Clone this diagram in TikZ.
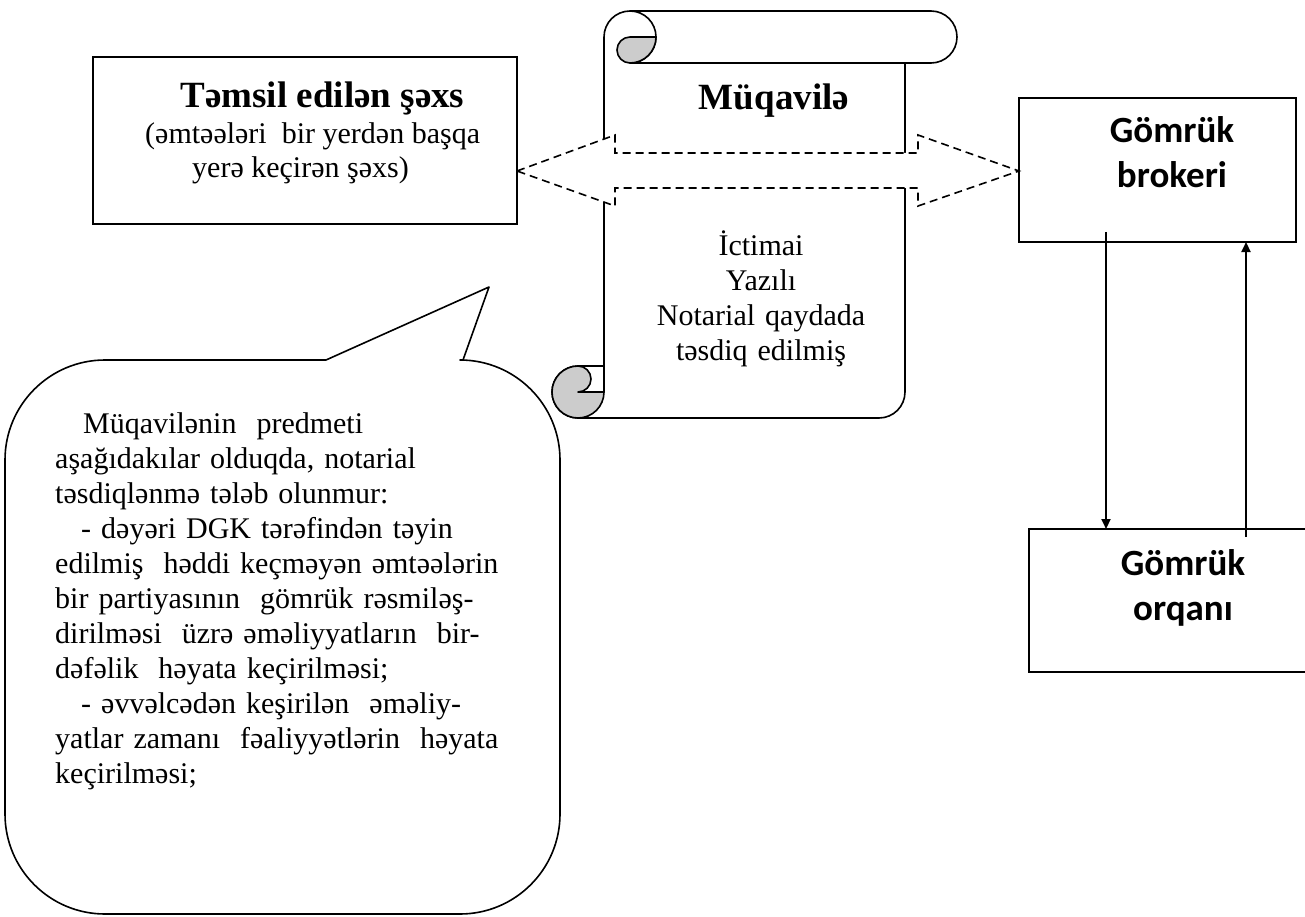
\documentclass[tikz,border=0pt]{standalone}
\usepackage{fontspec}
\setmainfont{Liberation Serif}
\newfontfamily\brokerfont{Carlito}
\usetikzlibrary{arrows.meta,calc}

\tikzset{
  boxnode/.style={draw=black, line width=2pt, fill=white, rectangle, inner sep=0pt, outer sep=0pt},
  txt/.style={inner sep=0pt, font=\fontsize{30}{35}\selectfont},
  ttl/.style={inner sep=0pt, font=\fontsize{37}{42}\selectfont\bfseries},
  sanslbl/.style={inner sep=0pt, font=\brokerfont\fontsize{37}{45}\selectfont\bfseries, text width=220pt, align=center},
  outline/.style={draw=black, line width=1.6pt, line join=round},
  curl/.style={outline, fill=black!20},
  dasharrow/.style={draw=black, fill=white, line width=1.6pt, dash pattern=on 8pt off 5pt, line join=miter},
  flow/.style={draw=black, line width=2pt, -{Triangle[length=10pt,width=9pt]}},
}

\begin{document}
\begin{tikzpicture}[x=1pt,y=-1pt]
\useasboundingbox (0,0) rectangle (1305,917);
\clip (0,0) rectangle (1305,917);

% --- boxes ---
\node[boxnode, minimum width=424pt, minimum height=167pt] (rep) at (305,140.5) {};
\node[boxnode, minimum width=277pt, minimum height=144pt] (brok) at (1157.5,170) {};
\node[boxnode, minimum width=281pt, minimum height=143pt] (organ) at (1169.5,600.5) {};

% --- scroll: body with top roll ---
\path[outline, fill=white] (604,392) -- (604,37) arc[start angle=180, end angle=270, radius=26]
  -- (931,11) arc[start angle=270, end angle=450, radius=26] -- (905,63) -- (905,392)
  arc[start angle=0, end angle=90, radius=26] -- (578,418)
  arc[start angle=90, end angle=270, radius=26] -- (604,366) -- cycle;
\draw[outline] (630,11) arc[start angle=270, end angle=450, radius=26] -- (905,63);
% rolled-up ends
\draw[curl] (630,37) arc[start angle=270, end angle=90, radius=13]
  arc[start angle=90, end angle=0, radius=26] -- cycle;
\draw[curl] (578,366) arc[start angle=270, end angle=0, radius=26] -- (578,392)
  arc[start angle=90, end angle=-90, radius=13] -- cycle;

% --- dashed double arrow between the parties ---
\coordinate (tipL) at ([yshift=-30.5pt]rep.east);
\coordinate (tipR) at (tipL -| brok.west);
\path[dasharrow] (tipL) -- ($(tipL)+(98,-36)$) -- ($(tipL)+(98,-18)$)
  -- ($(tipR)+(-101,-18)$) -- ($(tipR)+(-101,-36)$) -- (tipR)
  -- ($(tipR)+(-101,35)$) -- ($(tipR)+(-101,17)$)
  -- ($(tipL)+(98,17)$) -- ($(tipL)+(98,35)$) -- cycle;

% --- broker <-> customs arrows ---
\draw[flow] ([xshift=87pt,yshift=10pt]brok.south west) -- ([xshift=77pt]organ.north west);
\draw[flow] ([xshift=217pt,yshift=-8pt]organ.north west) -- ([xshift=227pt]brok.south west);

% --- callout ---
\draw[outline, fill=white] (5,460) arc[start angle=180, end angle=270, radius=100]
  -- (326,360) -- (489,287) -- (463,360) -- (460,360)
  arc[start angle=270, end angle=360, radius=100] -- (560,814)
  arc[start angle=0, end angle=90, radius=100] -- (105,914)
  arc[start angle=90, end angle=180, radius=100] -- cycle;

% --- texts ---
\node[ttl, anchor=base] (repTitle) at (322.5,108) {Təmsil edilən şəxs};
\node[txt, anchor=base west] (repSub1) at (145,144) {(əmtəələri\ \ bir yerdən başqa};
\node[txt, anchor=base west] (repSub2) at (192,178) {yerə keçirən şəxs)};

\node[ttl, anchor=base] (contract) at (774,110) {Müqavilə};
\node[txt, anchor=base, text width=280pt, align=center] (forms) at (761,255)
  {İctimai\\Yazılı\\Notarial qaydada\\təsdiq edilmiş};

\node[sanslbl, anchor=base] (brokT) at (1172,143) {Gömrük\\brokeri};
\node[sanslbl, anchor=base] (organT) at (1183,575) {Gömrük\\orqanı};

\node[txt, anchor=base west, text width=500pt, align=left] (note) at (55,433)
  {\hspace*{28pt}Müqavilənin\ \ predmeti\\
   aşağıdakılar olduqda, notarial\\
   təsdiqlənmə tələb olunmur:\\
   \hspace*{26pt}- dəyəri DGK tərəfindən təyin\\
   edilmiş\ \ həddi keçməyən əmtəələrin\\
   bir partiyasının\ \ gömrük rəsmiləş-\\
   dirilməsi\ \ üzrə əməliyyatların\ \ bir-\\
   dəfəlik\ \ həyata keçirilməsi;\\
   \hspace*{26pt}- əvvəlcədən keşirilən\ \ əməliy-\\
   yatlar zamanı\ \ fəaliyyətlərin\ \ həyata\\
   keçirilməsi;};
\end{tikzpicture}
\end{document}
